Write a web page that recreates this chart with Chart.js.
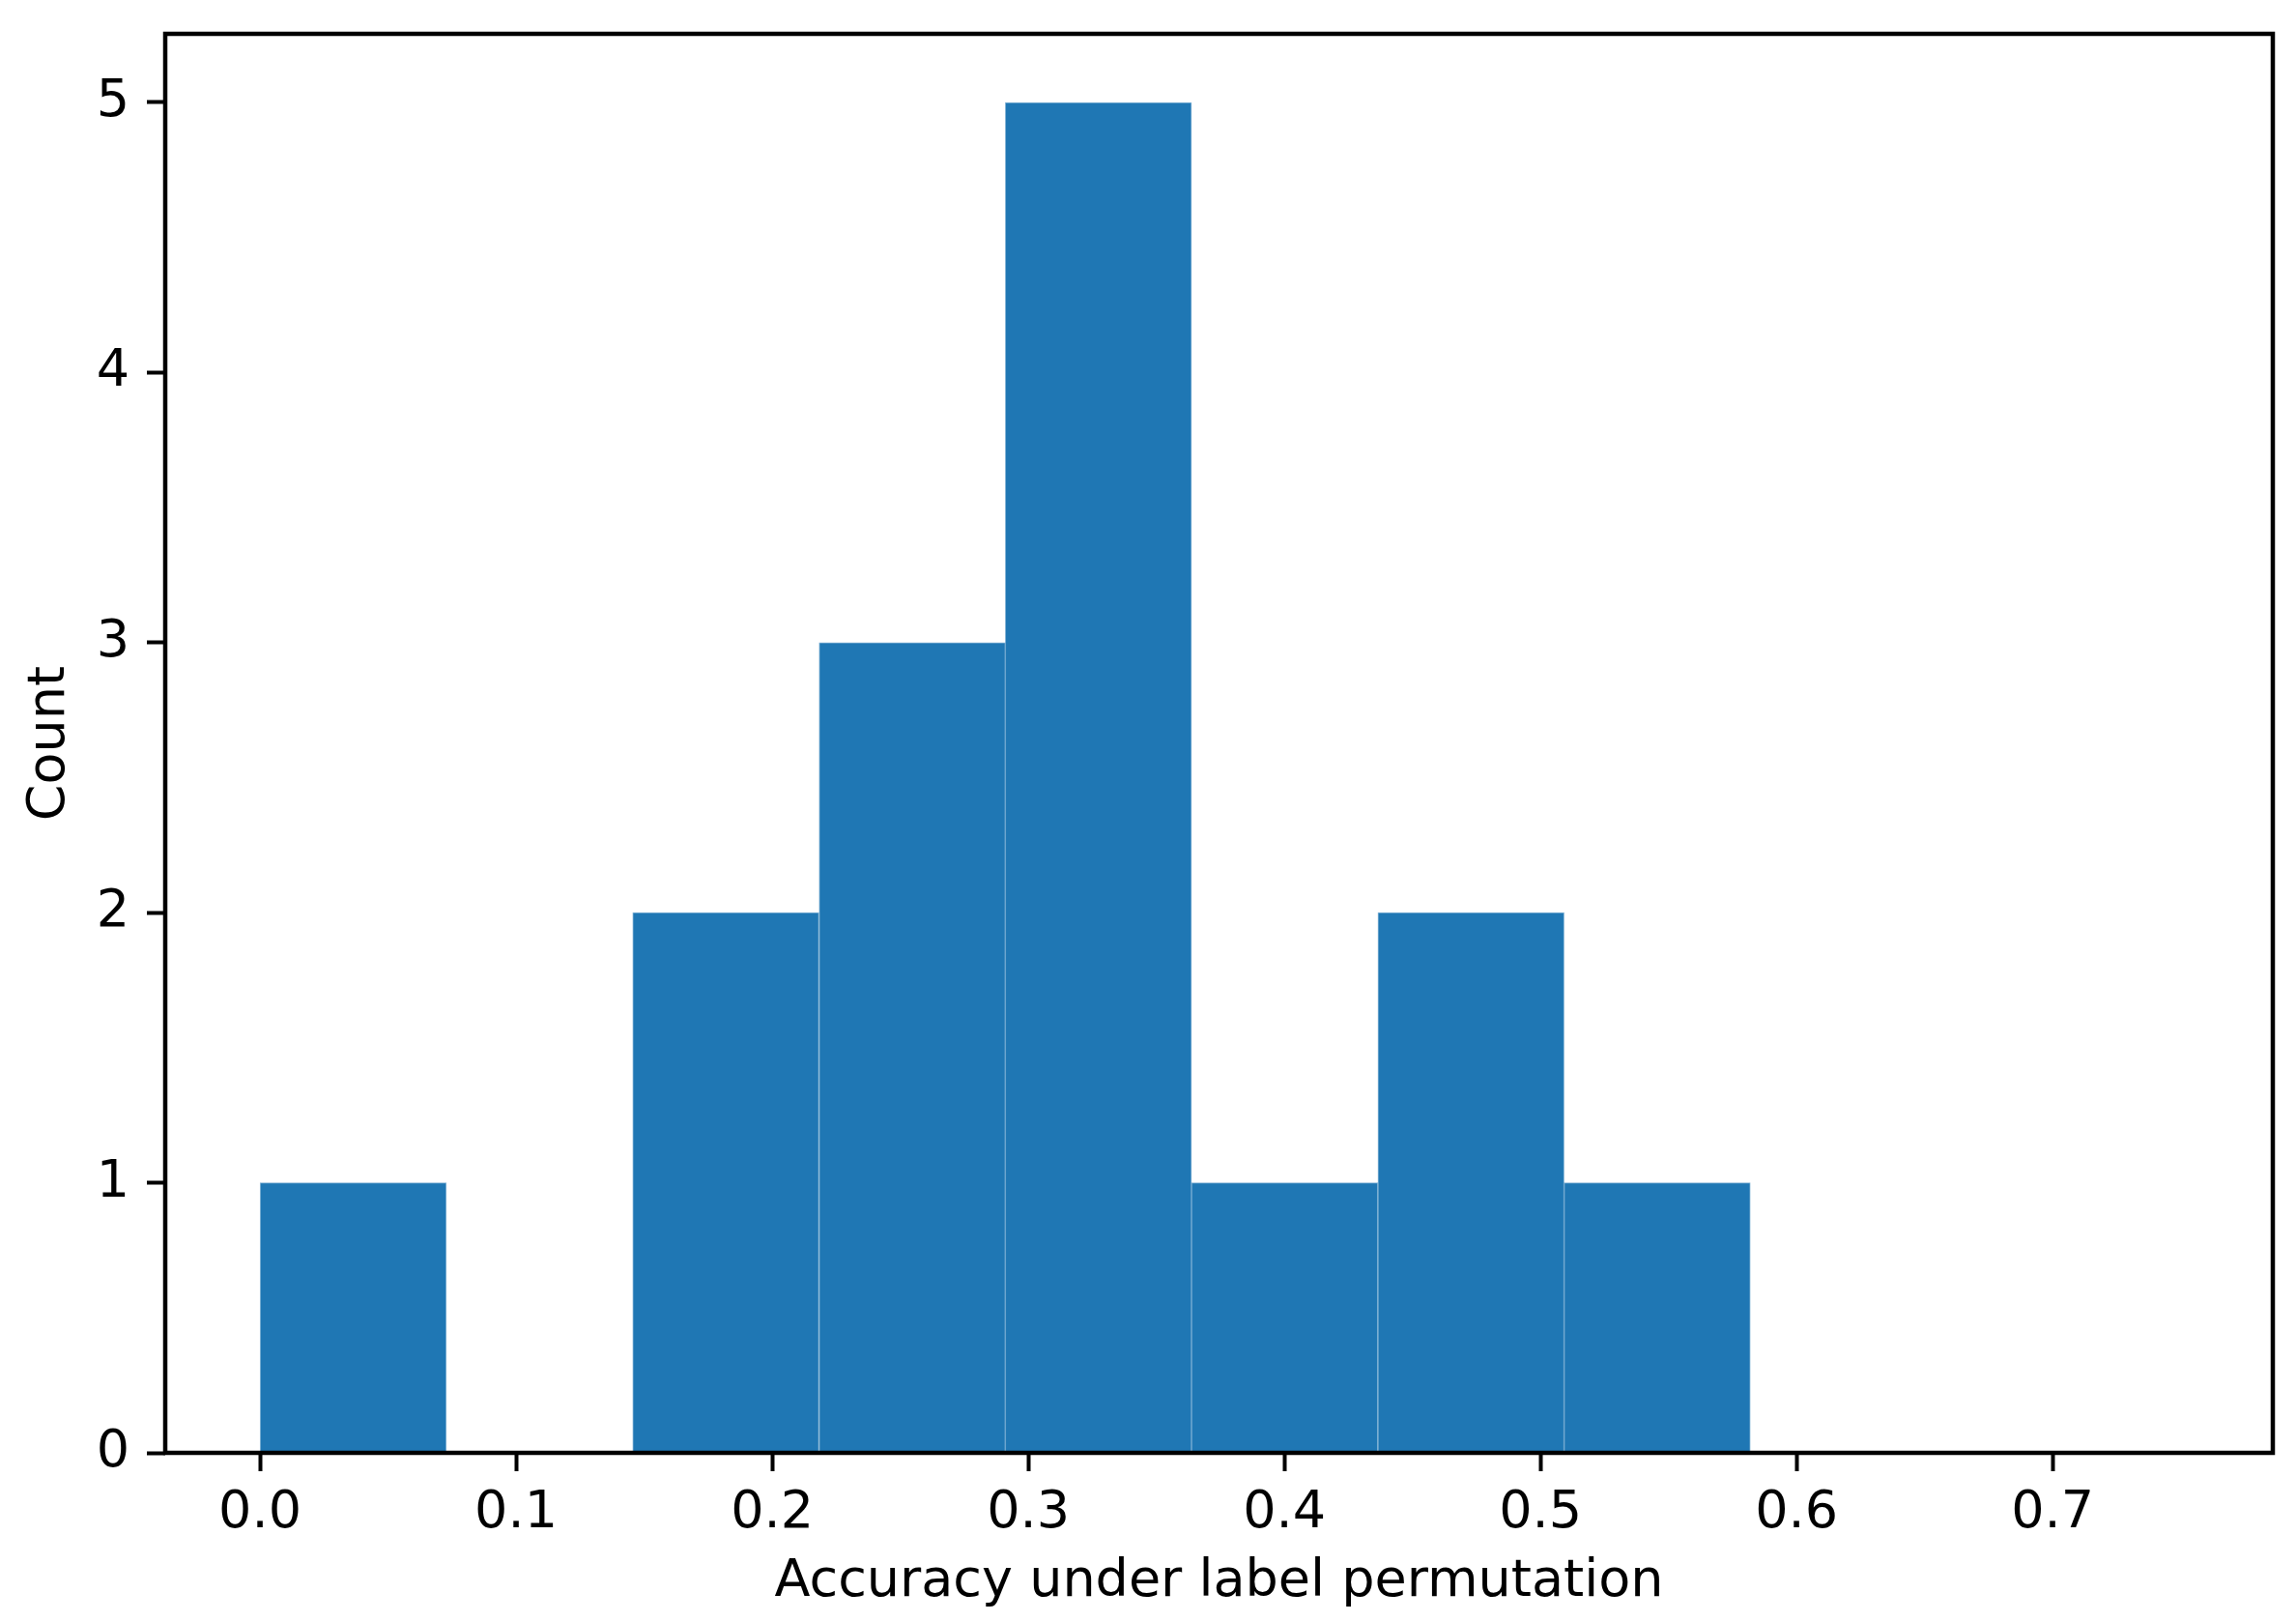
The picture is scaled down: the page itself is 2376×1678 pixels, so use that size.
<!DOCTYPE html>
<html>
<head>
<meta charset="utf-8">
<script src="https://cdn.jsdelivr.net/npm/chart.js@4.4.1/dist/chart.umd.min.js"></script>
<style>
  html, body { margin: 0; padding: 0; background: #fff; }
  canvas { display: block; }
</style>
</head>
<body>
<canvas id="hist" width="2376" height="1678"></canvas>
<script>
// histogram bins (centres of equal-width bins, width ~0.0728)
const binCenters = [0.0364, 0.1092, 0.1819, 0.2547, 0.3274, 0.4001, 0.4729, 0.5456, 0.6184, 0.6911];
const counts = [1, 0, 2, 3, 5, 1, 2, 1, 0, 0];
const xLimits = [-0.037, 0.786];
const yLimits = [0, 5.254];
const xLabel = 'Accuracy under label permutation';
const yLabel = 'Count';

const FONT = 'DejaVu Sans';
const BLUE = '#1f77b4';

// box round the plot area (matplotlib spines)
const frame = {
  id: 'frame',
  afterDraw(chart) {
    const { ctx, chartArea: a } = chart;
    ctx.save();
    ctx.strokeStyle = '#000';
    ctx.lineWidth = 4.5;
    ctx.strokeRect(a.left, a.top, a.right - a.left, a.bottom - a.top);
    ctx.restore();
  }
};

const tickGrid = {
  display: true,
  offset: false,
  drawOnChartArea: false,
  drawTicks: true,
  tickLength: 19,
  tickWidth: 4,
  tickColor: '#000'
};

// no extra room for half labels, the plot box is fixed
function noPad(scale) {
  scale.paddingTop = 0;
  scale.paddingBottom = 0;
  scale.paddingLeft = 0;
  scale.paddingRight = 0;
}

new Chart(document.getElementById('hist'), {
  type: 'bar',
  data: {
    datasets: [{
      data: binCenters.map((x, i) => ({ x: x, y: counts[i] })),
      backgroundColor: BLUE,
      borderColor: 'rgba(31,119,180,0.55)',
      borderWidth: 1,
      barPercentage: 1,
      categoryPercentage: 1
    }]
  },
  options: {
    responsive: false,
    devicePixelRatio: 1,
    animation: false,
    layout: { padding: { top: 35, right: 24, left: 0, bottom: 0 } },
    plugins: { legend: { display: false }, tooltip: { enabled: false } },
    scales: {
      x: {
        type: 'linear',
        offset: false,
        min: xLimits[0],
        max: xLimits[1],
        grid: tickGrid,
        border: { display: false },
        ticks: {
          stepSize: 0.1,
          includeBounds: false,
          color: '#000',
          padding: 12,
          maxRotation: 0,
          font: { family: FONT, size: 54 },
          callback: (v) => v.toFixed(1)
        },
        title: {
          display: true,
          text: xLabel,
          color: '#000',
          padding: { top: 0, bottom: 9 },
          font: { family: FONT, size: 54, lineHeight: 1.2 }
        },
        afterFit(scale) { scale.height = 175; noPad(scale); }
      },
      y: {
        min: yLimits[0],
        max: yLimits[1],
        grid: tickGrid,
        border: { display: false },
        ticks: {
          stepSize: 1,
          includeBounds: false,
          color: '#000',
          padding: 18,
          font: { family: FONT, size: 54 }
        },
        title: {
          display: true,
          text: yLabel,
          color: '#000',
          padding: { top: 20, bottom: 0 },
          font: { family: FONT, size: 54, lineHeight: 1.2 }
        },
        afterFit(scale) { scale.width = 171; noPad(scale); }
      }
    }
  },
  plugins: [frame]
});
</script>
</body>
</html>
